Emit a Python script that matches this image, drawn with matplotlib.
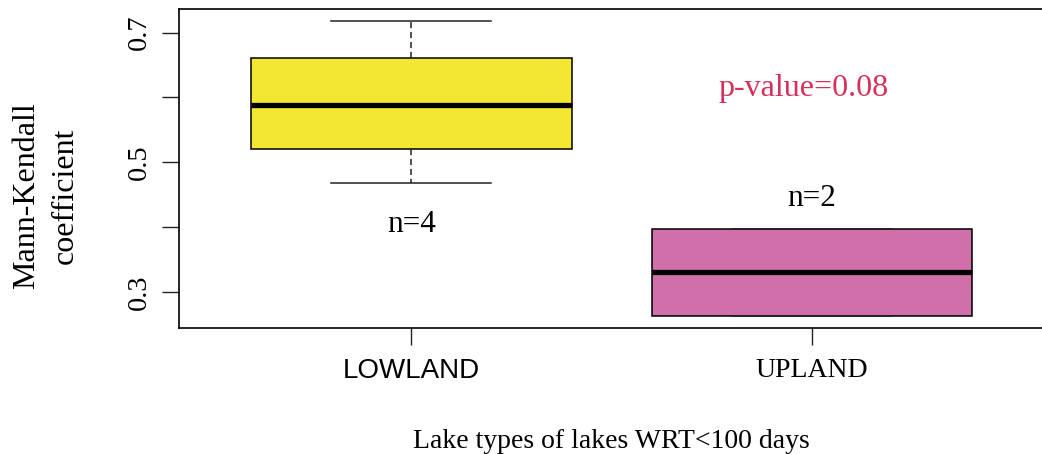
import matplotlib
matplotlib.use("Agg")
import matplotlib.pyplot as plt

# data
groups = ["LOWLAND", "UPLAND"]
whislo = [0.469, 0.263]
q1 = [0.520, 0.263]
med = [0.588, 0.331]
q3 = [0.661, 0.397]
whishi = [0.718, 0.397]
counts = [4, 2]
box_colors = ["#F4E731", "#D06FAA"]
p_text = "p-value=0.08"

serif = ["Liberation Serif", "DejaVu Serif"]
sans = ["Liberation Sans", "DejaVu Sans"]

fig = plt.figure(figsize=(10.42, 4.54), dpi=100)
ax = fig.add_axes([0.1718, 0.2769, 0.8302, 0.7033])

stats = []
for i in range(len(groups)):
    stats.append({"label": groups[i], "whislo": whislo[i], "q1": q1[i],
                  "med": med[i], "q3": q3[i], "whishi": whishi[i], "fliers": []})

bp = ax.bxp(stats, positions=[1, 2], widths=0.8, patch_artist=True,
            showfliers=False,
            boxprops=dict(linewidth=1.1, edgecolor="black"),
            medianprops=dict(linewidth=3.8, color="black", solid_capstyle="butt"),
            whiskerprops=dict(linewidth=1.1, color="#222222", linestyle=(0, (4, 2.5))),
            capprops=dict(linewidth=1.1, color="#222222"),
            capwidths=0.4)
for patch, c in zip(bp["boxes"], box_colors):
    patch.set_facecolor(c)

ax.set_xlim(0.42, 2.58)
ax.set_ylim(0.2448, 0.7362)

ax.set_yticks([0.3, 0.4, 0.5, 0.6, 0.7])
ax.set_yticklabels(["0.3", "", "0.5", "", "0.7"], rotation=90, va="center",
                   fontfamily=serif, fontsize=20.5)
ax.set_xticks([1, 2])
ax.set_xticklabels(groups, fontsize=20)
ax.get_xticklabels()[0].set_fontfamily(sans)
ax.get_xticklabels()[1].set_fontfamily(serif)
ax.tick_params(axis="both", direction="out", length=12.5, width=1.0, color="#222222")
ax.tick_params(axis="y", pad=7)
ax.tick_params(axis="x", pad=9)
for s in ax.spines.values():
    s.set_linewidth(1.2)
ax.spines["right"].set_visible(False)  # falls just off the canvas in the reference

# annotations
ax.text(1, 0.405, "n=%d" % counts[0], ha="center", va="center",
        fontfamily=serif, fontsize=22.5)
ax.text(2, 0.445, "n=%d" % counts[1], ha="center", va="center",
        fontfamily=serif, fontsize=22.5)
ax.text(1.98, 0.614, p_text, ha="center", va="center", color="#D6305A",
        fontfamily=serif, fontsize=23)

fig.text(611 / 1042, 1 - 441 / 454, "Lake types of lakes WRT<100 days",
         ha="center", va="center", fontfamily=serif, fontsize=20)
fig.text(27 / 1042, 1 - 196 / 454, "Mann-Kendall", rotation=90,
         ha="center", va="center", fontfamily=serif, fontsize=23)
fig.text(65 / 1042, 1 - 196 / 454, "coefficient", rotation=90,
         ha="center", va="center", fontfamily=serif, fontsize=23)

fig.savefig("out.png", dpi=100)
